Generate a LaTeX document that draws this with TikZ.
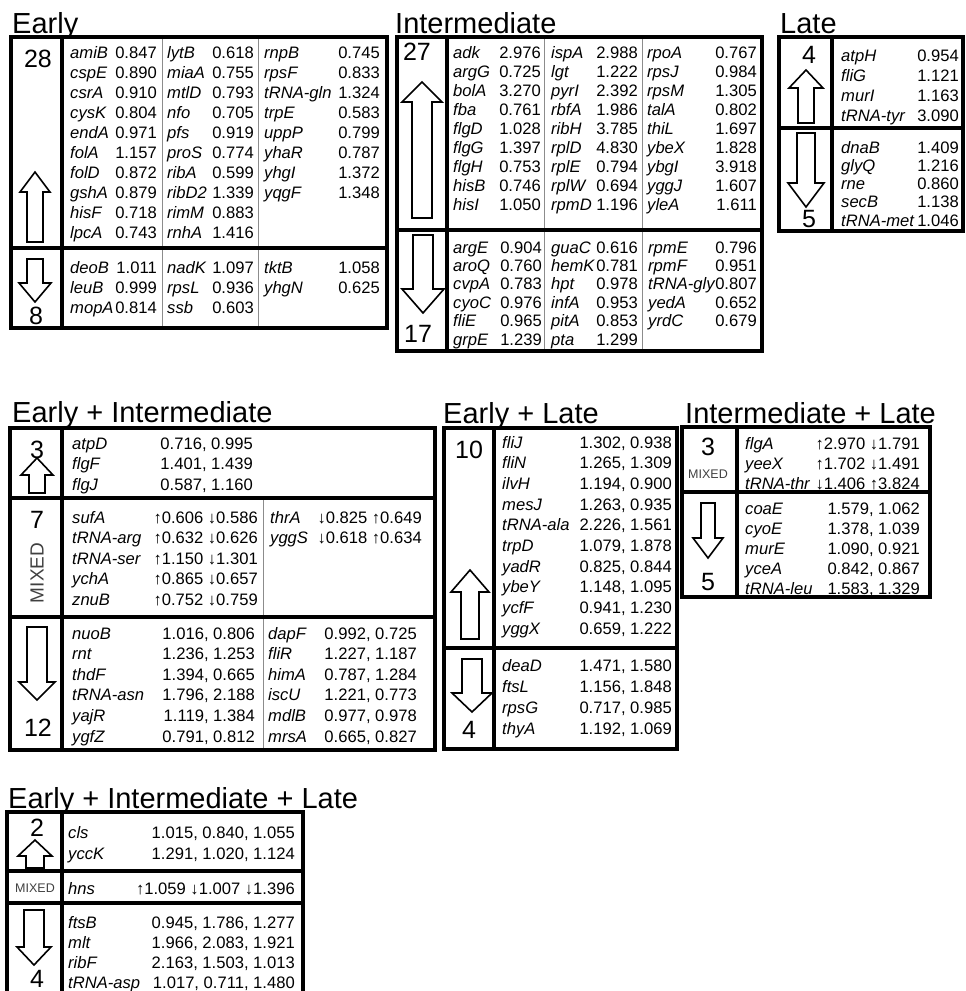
\documentclass[tikz,border=0pt]{standalone}
\usepackage{fontspec}
\setmainfont{Liberation Sans}
\newcommand{\ttlfont}{\fontsize{29}{31}\selectfont}
\newcommand{\cntfont}{\fontsize{25}{27}\selectfont}
\newcommand{\rowfont}{\fontsize{16.6}{19}\selectfont}
% block arrow: centre x, tip y, neck y, tail y, head half width, shaft half width
\newcommand{\blockarrow}[6]{%
  \draw[arrow outline] (#1,#2) -- ({#1+#5},#3) -- ({#1+#6},#3) -- ({#1+#6},#4)
    -- ({#1-#6},#4) -- ({#1-#6},#3) -- ({#1-#5},#3) -- cycle;}
% one column of gene/value rows: prefix, gene x, value x, first baseline, pitch, list
\newcommand{\genecol}[6]{%
  \foreach \g/\v [count=\i] in {#6} {
    \node[gene] (#1g\i) at (#2,{#4+(\i-1)*#5}) {\g};
    \node[val] (#1v\i) at (#3,{#4+(\i-1)*#5}) {\v};
  }}
\usetikzlibrary{calc}

\begin{document}
\begin{tikzpicture}[x=1pt, y=-1pt,
    panel/.style={line width=3.6pt},
    thin rule/.style={line width=0.9pt, black!45},
    arrow outline/.style={line width=1.6pt, fill=white, line join=miter},
    heading/.style={anchor=base west, inner sep=0, font=\ttlfont},
    tally/.style={inner sep=0, font=\cntfont},
    gene/.style={anchor=base west, inner sep=0, font=\rowfont\itshape},
    val/.style={anchor=base east, inner sep=0, font=\rowfont},
    mixed tag/.style={inner sep=0, text=black!75}
  ]
  \useasboundingbox (0,0) rectangle (966,991);

  % ---- Early
  \node[heading] (t-e) at (12,33) {Early};
  \draw[thin rule] (162,37) -- (162,328) (258,37) -- (258,328);
  \draw[panel] (11,37) rectangle (387,328);
  \draw[panel] (62,37) -- (62,328) (11,248) -- (387,248);
  \blockarrow{35}{172}{192}{242}{15}{8}
  \blockarrow{35}{302}{283}{259}{16}{8}
  \node[tally] (n-e-up) at (38,59) {28};
  \node[tally] (n-e-dn) at (36,316) {8};
  \genecol{eu1}{70}{157}{58}{20}{amiB/0.847, cspE/0.890, csrA/0.910, cysK/0.804, endA/0.971, folA/1.157, folD/0.872, gshA/0.879, hisF/0.718, lpcA/0.743}
  \genecol{eu2}{167}{254}{58}{20}{lytB/0.618, miaA/0.755, mtlD/0.793, nfo/0.705, pfs/0.919, proS/0.774, ribA/0.599, ribD2/1.339, rimM/0.883, rnhA/1.416}
  \genecol{eu3}{264}{380}{58}{20}{rnpB/0.745, rpsF/0.833, tRNA-gln/1.324, trpE/0.583, uppP/0.799, yhaR/0.787, yhgI/1.372, yqgF/1.348}
  \genecol{ed1}{70}{157}{273}{20}{deoB/1.011, leuB/0.999, mopA/0.814}
  \genecol{ed2}{167}{254}{273}{20}{nadK/1.097, rpsL/0.936, ssb/0.603}
  \genecol{ed3}{264}{380}{273}{20}{tktB/1.058, yhgN/0.625}

  % ---- Intermediate
  \node[heading] (t-i) at (395,33) {Intermediate};
  \draw[thin rule] (544,37) -- (544,351) (642,37) -- (642,351);
  \draw[panel] (397,37) rectangle (762,351);
  \draw[panel] (447,37) -- (447,351) (397,230) -- (762,230);
  \blockarrow{422}{82}{102}{218}{20}{10}
  \blockarrow{423}{313}{289}{235}{21}{10}
  \node[tally] (n-i-up) at (417,52) {27};
  \node[tally] (n-i-dn) at (418,334) {17};
  \genecol{iu1}{453}{541}{58}{19.05}{adk/2.976, argG/0.725, bolA/3.270, fba/0.761, flgD/1.028, flgG/1.397, flgH/0.753, hisB/0.746, hisI/1.050}
  \genecol{iu2}{551}{638}{58}{19.05}{ispA/2.988, lgt/1.222, pyrI/2.392, rbfA/1.986, ribH/3.785, rplD/4.830, rplE/0.794, rplW/0.694, rpmD/1.196}
  \genecol{iu3}{647}{757}{58}{19.05}{rpoA/0.767, rpsJ/0.984, rpsM/1.305, talA/0.802, thiL/1.697, ybeX/1.828, ybgI/3.918, yggJ/1.607, yleA/1.611}
  \genecol{id1}{453}{542}{253}{18.4}{argE/0.904, aroQ/0.760, cvpA/0.783, cyoC/0.976, fliE/0.965, grpE/1.239}
  \genecol{id2}{551}{638}{253}{18.4}{guaC/0.616, hemK/0.781, hpt/0.978, infA/0.953, pitA/0.853, pta/1.299}
  \genecol{id3}{648}{757}{253}{18.4}{rpmE/0.796, rpmF/0.951, tRNA-gly/0.807, yedA/0.652, yrdC/0.679}

  % ---- Late
  \node[heading] (t-l) at (780,33) {Late};
  \draw[panel] (779,37) rectangle (963,231);
  \draw[panel] (832,37) -- (832,231) (779,128) -- (963,128);
  \blockarrow{806}{70}{88}{123}{17}{8}
  \blockarrow{806}{207}{183}{133}{18}{9}
  \node[tally] (n-l-up) at (809,55) {4};
  \node[tally] (n-l-dn) at (809,219) {5};
  \genecol{lu}{841}{959}{61}{20}{atpH/0.954, fliG/1.121, murI/1.163, tRNA-tyr/3.090}
  \genecol{ld}{841}{959}{153}{18.25}{dnaB/1.409, glyQ/1.216, rne/0.860, secB/1.138, tRNA-met/1.046}

  % ---- Early + Intermediate
  \node[heading] (t-ei) at (12,422) {Early + Intermediate};
  \draw[thin rule] (263,498) -- (263,750);
  \draw[panel] (10,428) rectangle (435,750);
  \draw[panel] (62,428) -- (62,750) (10,498) -- (435,498) (10,617) -- (435,617);
  \blockarrow{37}{458}{475}{493}{16}{8}
  \blockarrow{37}{700}{682}{627}{18}{10}
  \node[tally] (n-ei-up) at (37,450) {3};
  \node[tally] (n-ei-mx) at (37,520) {7};
  \node[mixed tag, rotate=90, font=\fontsize{19}{20}\selectfont] (m-ei) at (37,573) {MIXED};
  \node[tally] (n-ei-dn) at (38,728) {12};
  \genecol{eiu}{72}{253}{449}{20.5}{atpD/{0.716, 0.995}, flgF/{1.401, 1.439}, flgJ/{0.587, 1.160}}
  \genecol{eim1}{72}{258}{523}{20.5}{sufA/↑0.606 ↓0.586, tRNA-arg/↑0.632 ↓0.626, tRNA-ser/↑1.150 ↓1.301, ychA/↑0.865 ↓0.657, znuB/↑0.752 ↓0.759}
  \genecol{eim2}{270}{422}{523}{20.5}{thrA/↓0.825 ↑0.649, yggS/↓0.618 ↑0.634}
  \genecol{eid1}{72}{255}{639}{20.6}{nuoB/{1.016, 0.806}, rnt/{1.236, 1.253}, thdF/{1.394, 0.665}, tRNA-asn/{1.796, 2.188}, yajR/{1.119, 1.384}, ygfZ/{0.791, 0.812}}
  \genecol{eid2}{268}{417}{639}{20.6}{dapF/{0.992, 0.725}, fliR/{1.227, 1.187}, himA/{0.787, 1.284}, iscU/{1.221, 0.773}, mdlB/{0.977, 0.978}, mrsA/{0.665, 0.827}}

  % ---- Early + Late
  \node[heading] (t-el) at (443,423) {Early + Late};
  \draw[panel] (444,428) rectangle (677,749);
  \draw[panel] (494,428) -- (494,749) (444,648) -- (677,648);
  \blockarrow{470}{570}{592}{639}{19}{9}
  \blockarrow{472}{712}{693}{659}{20}{10}
  \node[tally] (n-el-up) at (469,450) {10};
  \node[tally] (n-el-dn) at (469,730) {4};
  \genecol{elu}{502}{672}{448}{20.67}{fliJ/{1.302, 0.938}, fliN/{1.265, 1.309}, ilvH/{1.194, 0.900}, mesJ/{1.263, 0.935}, tRNA-ala/{2.226, 1.561}, trpD/{1.079, 1.878}, yadR/{0.825, 0.844}, ybeY/{1.148, 1.095}, ycfF/{0.941, 1.230}, yggX/{0.659, 1.222}}
  \genecol{eld}{502}{672}{671}{21}{deaD/{1.471, 1.580}, ftsL/{1.156, 1.848}, rpsG/{0.717, 0.985}, thyA/{1.192, 1.069}}

  % ---- Intermediate + Late
  \node[heading] (t-il) at (685,423) {Intermediate + Late};
  \draw[panel] (682,427) rectangle (930,597);
  \draw[panel] (737,427) -- (737,597) (682,492) -- (930,492);
  \blockarrow{708}{558}{538}{503}{15}{7}
  \node[tally] (n-il-mx) at (708,447) {3};
  \node[mixed tag, font=\fontsize{12.5}{14}\selectfont] (m-il) at (708,474) {MIXED};
  \node[tally] (n-il-dn) at (708,582) {5};
  \genecol{ilm}{745}{920}{449}{20}{flgA/↑2.970 ↓1.791, yeeX/↑1.702 ↓1.491, tRNA-thr/↓1.406 ↑3.824}
  \genecol{ild}{745}{920}{514}{20}{coaE/{1.579, 1.062}, cyoE/{1.378, 1.039}, murE/{1.090, 0.921}, yceA/{0.842, 0.867}, tRNA-leu/{1.583, 1.329}}

  % ---- Early + Intermediate + Late (cut by the lower edge)
  \node[heading] (t-eil) at (8,808) {Early + Intermediate + Late};
  \draw[panel] (7,812) rectangle (303,996);
  \draw[panel] (62,812) -- (62,996) (7,871) -- (303,871) (7,903) -- (303,903);
  \blockarrow{35}{840}{856}{868}{17}{9}
  \blockarrow{34}{965}{947}{910}{17}{10}
  \node[tally] (n-eil-up) at (37,828) {2};
  \node[mixed tag, font=\fontsize{12.5}{14}\selectfont] (m-eil) at (35,888) {MIXED};
  \node[tally] (n-eil-dn) at (37,979) {4};
  \genecol{eilu}{68}{295}{838}{21}{cls/{1.015, 0.840, 1.055}, yccK/{1.291, 1.020, 1.124}}
  \genecol{eilm}{68}{295}{894}{20}{hns/↑1.059 ↓1.007 ↓1.396}
  \genecol{eild}{68}{295}{928}{20}{ftsB/{0.945, 1.786, 1.277}, mlt/{1.966, 2.083, 1.921}, ribF/{2.163, 1.503, 1.013}, tRNA-asp/{1.017, 0.711, 1.480}}
\end{tikzpicture}
\end{document}
